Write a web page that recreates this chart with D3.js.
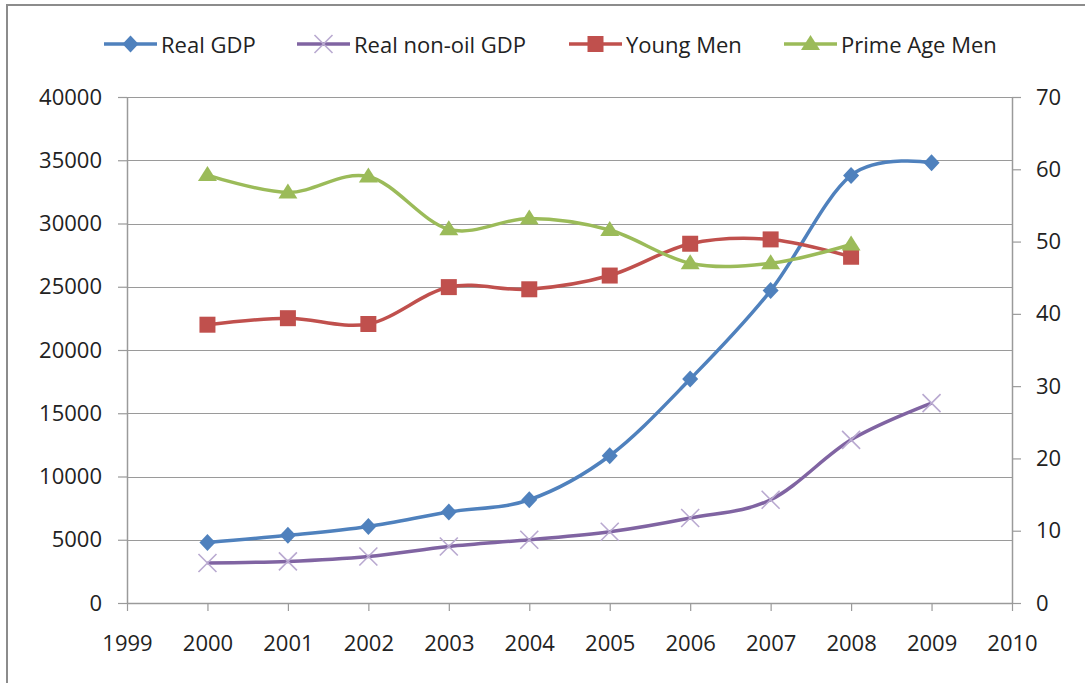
<!DOCTYPE html>
<html>
<head>
<meta charset="utf-8">
<script src="https://cdn.jsdelivr.net/npm/d3@7"></script>
<style>
  body { margin: 0; background: #fff; }
  text { font-family: "Open Sans", sans-serif; fill: #222; }
</style>
</head>
<body>
<div id="chart"></div>
<script>
// Chart size
const width = 1085;
const height = 683;
const margin = {left: 127, right: 73, top: 97, bottom: 80};

// Data
const years = [2000, 2001, 2002, 2003, 2004, 2005, 2006, 2007, 2008, 2009];
const realGdp = [4790, 5350, 6050, 7190, 8160, 11640, 17700, 24700, 33800, 34800];
const nonOilGdp = [3160, 3290, 3680, 4470, 5000, 5630, 6720, 8160, 12900, 15800];
const youngMen = [38.5, 39.4, 38.6, 43.7, 43.4, 45.3, 49.7, 50.3, 47.9];
const primeAgeMen = [59.2, 56.8, 59.0, 51.7, 53.2, 51.6, 47.0, 47.0, 49.6];

const xTicks = d3.range(1999, 2011);
const leftTicks = d3.range(0, 40001, 5000);
const rightTicks = d3.range(0, 71, 10);

const series = [
  {name: "Real GDP", values: realGdp, axis: "left", color: "#4F81BD", marker: "diamond"},
  {name: "Real non-oil GDP", values: nonOilGdp, axis: "left", color: "#8064A2", marker: "cross"},
  {name: "Young Men", values: youngMen, axis: "right", color: "#C0504D", marker: "square"},
  {name: "Prime Age Men", values: primeAgeMen, axis: "right", color: "#9BBB59", marker: "triangle"}
];

const svg = d3.select("#chart")
  .append("svg")
  .attr("width", width)
  .attr("height", height);

// outer frame (only left/top visible in the picture)
svg.append("rect")
  .attr("x", 7).attr("y", 5)
  .attr("width", width + 20).attr("height", height + 20)
  .attr("fill", "none")
  .attr("stroke", "#8c8c8c")
  .attr("stroke-width", 2);

// Scales
const xScale = d3.scaleLinear()
  .domain([1999, 2010])
  .range([margin.left, width - margin.right]);

const yLeft = d3.scaleLinear()
  .domain([0, 40000])
  .range([height - margin.bottom, margin.top]);

const yRight = d3.scaleLinear()
  .domain([0, 70])
  .range([height - margin.bottom, margin.top]);

// Gridlines
svg.append("g")
  .selectAll("line")
  .data(leftTicks)
  .join("line")
    .attr("x1", margin.left)
    .attr("x2", width - margin.right)
    .attr("y1", d => Math.round(yLeft(d)) + 0.5)
    .attr("y2", d => Math.round(yLeft(d)) + 0.5)
    .attr("stroke", "#9a9a9a")
    .attr("stroke-width", 1.2);

// Axes
const axisColor = "#9a9a9a";
function styleAxis(g) {
  g.select(".domain").attr("stroke", axisColor).attr("stroke-width", 1.5);
  g.selectAll(".tick line").attr("stroke", axisColor).attr("stroke-width", 1.2);
  g.selectAll(".tick text").attr("font-size", "22px").attr("fill", "#1e1e1e");
}

svg.append("g")
  .attr("transform", `translate(${margin.left},0)`)
  .call(d3.axisLeft(yLeft).tickValues(leftTicks).tickFormat(d3.format("d"))
    .tickSize(9).tickSizeOuter(0).tickPadding(16))
  .call(styleAxis);

svg.append("g")
  .attr("transform", `translate(${width - margin.right},0)`)
  .call(d3.axisRight(yRight).tickValues(rightTicks).tickFormat(d3.format("d"))
    .tickSize(9).tickSizeOuter(0).tickPadding(15))
  .call(styleAxis);

svg.append("g")
  .attr("transform", `translate(0,${height - margin.bottom})`)
  .call(d3.axisBottom(xScale).tickValues(xTicks).tickFormat(d3.format("d"))
    .tickSize(8).tickSizeOuter(0).tickPadding(24))
  .call(styleAxis);

// Markers
function markerPath(type) {
  if (type === "diamond") return "M0,-8.5L8,0L0,8.5L-8,0Z";
  if (type === "square") return "M-8,-8H8V8H-8Z";
  if (type === "triangle") return "M0,-9L9.5,6H-9.5Z";
  return "M-9,-9L9,9M-9,9L9,-9";
}

function drawMarker(g, type, color) {
  const p = g.append("path").attr("d", markerPath(type));
  if (type === "cross") {
    p.attr("fill", "none").attr("stroke", "#b9a9d0").attr("stroke-width", 1.6);
  } else {
    p.attr("fill", color).attr("stroke", "none");
  }
}

// Lines
series.forEach(s => {
  const y = s.axis === "left" ? yLeft : yRight;
  const pts = s.values.map((v, i) => [xScale(years[i]), y(v)]);

  const line = d3.line().curve(d3.curveCardinal.tension(0));
  svg.append("path")
    .attr("d", line(pts))
    .attr("fill", "none")
    .attr("stroke", s.color)
    .attr("stroke-width", 3.5);

  pts.forEach(p => {
    const g = svg.append("g").attr("transform", `translate(${p[0]},${p[1]})`);
    drawMarker(g, s.marker, s.color);
  });
});

// Legend
const legendX = [104, 297, 569, 784];
const legend = svg.append("g");
series.forEach((s, i) => {
  const g = legend.append("g").attr("transform", `translate(${legendX[i]},44)`);
  g.append("line")
    .attr("x1", 0).attr("x2", 53)
    .attr("stroke", s.color)
    .attr("stroke-width", 3.5);
  const m = g.append("g").attr("transform", "translate(26.5,0)");
  drawMarker(m, s.marker, s.color);
  g.append("text")
    .attr("x", 57)
    .attr("y", 1)
    .attr("dy", "0.35em")
    .attr("font-size", "22px")
    .text(s.name);
});
</script>
</body>
</html>
